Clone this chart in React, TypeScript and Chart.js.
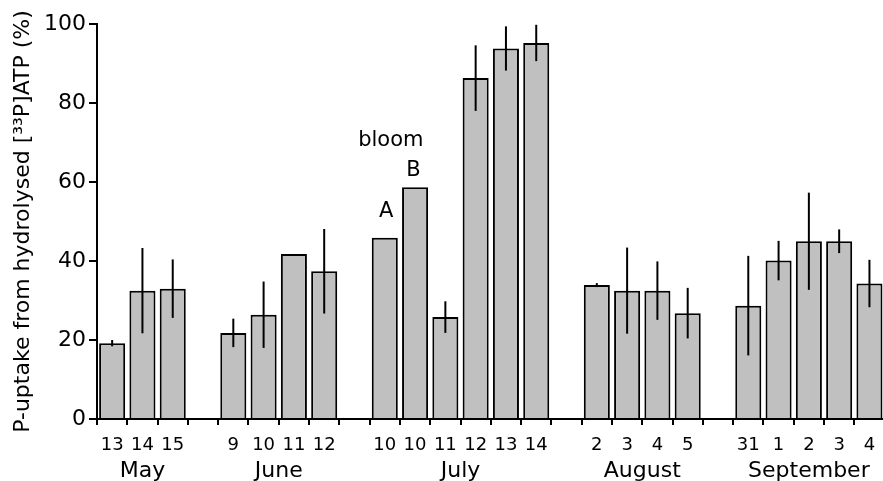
import React, { useEffect, useRef } from 'react';
import { Chart, registerables } from 'chart.js';

Chart.register(...registerables);

const categories = ['13', '14', '15', '', '9', '10', '11', '12', '', '10', '10', '11', '12', '13', '14', '', '2', '3', '4', '5', '', '31', '1', '2', '3', '4'];
const values = [19.2, 32.5, 33.0, null, 21.8, 26.4, 41.8, 37.4, null, 45.9, 58.7, 25.8, 86.3, 93.8, 95.2, null, 33.9, 32.5, 32.5, 26.8, null, 28.7, 40.1, 45.0, 45.0, 34.3];
const errors = [0.8, 10.8, 7.4, null, 3.6, 8.4, null, 10.7, null, null, null, 4.0, 8.3, 5.6, 4.6, null, 0.5, 10.9, 7.4, 6.4, null, 12.6, 5.0, 12.3, 3.0, 6.0];

const months = ['May', 'June', 'July', 'August', 'September'];
const monthFirst = [0, 4, 9, 16, 21];
const monthLast = [2, 7, 14, 19, 25];

const noteTexts = ['A', 'B', 'bloom'];
const noteIndex = [9.05, 9.95, 9.2];
const noteValue = [52.4, 63.0, 70.6];

const yTitle = 'P-uptake from hydrolysed [³³P]ATP (%)';
const FONT = 'DejaVu Sans';

const errorBarPlugin = {
  id: 'errorBars',
  afterDatasetsDraw(chart: any) {
    const meta = chart.getDatasetMeta(0);
    const y = chart.scales.y;
    const ctx = chart.ctx;
    ctx.save();
    ctx.strokeStyle = '#000';
    ctx.lineWidth = 2;
    values.forEach((v, i) => {
      const e = errors[i];
      if (v == null || e == null) return;
      const bar = meta.data[i];
      ctx.beginPath();
      ctx.moveTo(bar.x, y.getPixelForValue(v + e));
      ctx.lineTo(bar.x, y.getPixelForValue(v - e));
      ctx.stroke();
    });
    ctx.restore();
  },
};

const textPlugin = {
  id: 'texts',
  afterDraw(chart: any) {
    const x = chart.scales.x;
    const y = chart.scales.y;
    const ctx = chart.ctx;
    ctx.save();
    ctx.fillStyle = '#000';
    ctx.textAlign = 'center';
    ctx.font = `22px "${FONT}"`;
    ctx.textBaseline = 'alphabetic';
    months.forEach((m, i) => {
      const cx = (x.getPixelForValue(monthFirst[i]) + x.getPixelForValue(monthLast[i])) / 2;
      ctx.fillText(m, cx, x.top + 58);
    });
    ctx.font = `21px "${FONT}"`;
    ctx.textBaseline = 'middle';
    noteTexts.forEach((t, i) => {
      ctx.fillText(t, x.getPixelForValue(noteIndex[i]), y.getPixelForValue(noteValue[i]));
    });
    ctx.restore();
  },
};

export default function App() {
  const ref = useRef<HTMLCanvasElement | null>(null);
  useEffect(() => {
    if (!ref.current) return;
    Chart.defaults.font.family = FONT;
    Chart.defaults.color = '#000';
    const chart = new Chart(ref.current, {
      type: 'bar',
      data: {
        labels: categories,
        datasets: [
          {
            data: values as any,
            backgroundColor: '#c0c0c0',
            borderColor: '#000',
            borderWidth: 2,
            barPercentage: 0.86,
            categoryPercentage: 1,
          },
        ],
      },
      options: {
        animation: false,
        responsive: true,
        maintainAspectRatio: false,
        layout: { padding: { top: 24, right: 5.4, left: 0, bottom: 0 } },
        plugins: { legend: { display: false }, tooltip: { enabled: false } },
        scales: {
          x: {
            offset: true,
            grid: { offset: true, drawOnChartArea: false, drawTicks: true, tickLength: 6, color: '#000', lineWidth: 2 },
            border: { display: true, color: '#000', width: 2 },
            ticks: { autoSkip: false, maxRotation: 0, font: { size: 18 }, color: '#000', padding: 10 },
            afterFit: (s: any) => { s.height = 62; },
          },
          y: {
            min: 0,
            max: 100,
            grid: { drawOnChartArea: false, drawTicks: true, tickLength: 8, color: '#000', lineWidth: 2 },
            border: { display: true, color: '#000', width: 2 },
            ticks: { stepSize: 20, font: { size: 22 }, color: '#000', padding: 3 },
            title: { display: true, text: yTitle, font: { size: 22 }, color: '#000', padding: { top: 10, bottom: 0 } },
            afterFit: (s: any) => { s.width = 97; },
          },
        },
      },
      plugins: [errorBarPlugin, textPlugin],
    });
    return () => chart.destroy();
  }, []);
  return (
    <div style={{ position: 'fixed', left: 0, top: 0, width: 883, height: 481, overflow: 'hidden', background: '#fff' }}>
      <div style={{ width: 890, height: 481, position: 'relative' }}>
        <canvas ref={ref} />
      </div>
    </div>
  );
}
